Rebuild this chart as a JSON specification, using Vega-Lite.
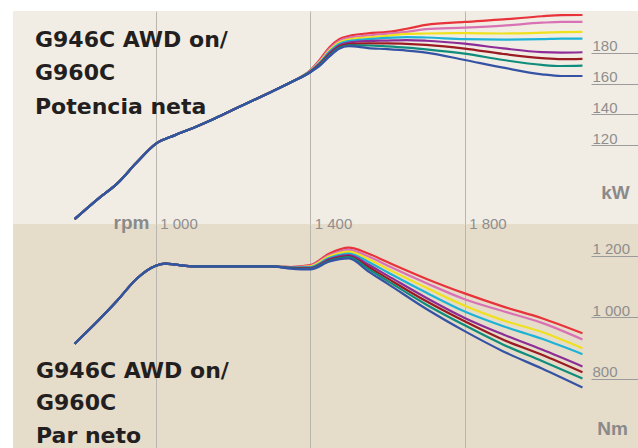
{
"$schema": "https://vega.github.io/schema/vega-lite/v6.json",
"background": "white",
"padding": {"left": 13, "top": 10, "right": 0, "bottom": 0},
"autosize": {"type": "pad"},
"spacing": 0,
"bounds": "flush",
"config": {"view": {"stroke": null}, "font": "Liberation Sans"},
"datasets": {
"potencia": [
{"serie":"rojo","rpm":790,"kW":72},{"serie":"rojo","rpm":850,"kW":85},{"serie":"rojo","rpm":900,"kW":95},{"serie":"rojo","rpm":950,"kW":108.5},{"serie":"rojo","rpm":1000,"kW":120.8},{"serie":"rojo","rpm":1050,"kW":126.5},{"serie":"rojo","rpm":1100,"kW":131.5},{"serie":"rojo","rpm":1150,"kW":137},{"serie":"rojo","rpm":1200,"kW":143},{"serie":"rojo","rpm":1250,"kW":148.8},{"serie":"rojo","rpm":1300,"kW":154.7},{"serie":"rojo","rpm":1350,"kW":160.8},
{"serie":"rojo","rpm":1400,"kW":168.6},{"serie":"rojo","rpm":1425,"kW":175.5},{"serie":"rojo","rpm":1450,"kW":183.5},{"serie":"rojo","rpm":1475,"kW":188.8},{"serie":"rojo","rpm":1500,"kW":190.9},{"serie":"rojo","rpm":1550,"kW":192.6},{"serie":"rojo","rpm":1600,"kW":193.5},{"serie":"rojo","rpm":1650,"kW":195.6},{"serie":"rojo","rpm":1700,"kW":198.1},{"serie":"rojo","rpm":1800,"kW":200},{"serie":"rojo","rpm":1900,"kW":201.6},{"serie":"rojo","rpm":2000,"kW":203.7},{"serie":"rojo","rpm":2050,"kW":204.4},{"serie":"rojo","rpm":2105,"kW":204.5},
{"serie":"rosa","rpm":790,"kW":72},{"serie":"rosa","rpm":850,"kW":85},{"serie":"rosa","rpm":900,"kW":95},{"serie":"rosa","rpm":950,"kW":108.5},{"serie":"rosa","rpm":1000,"kW":120.8},{"serie":"rosa","rpm":1050,"kW":126.5},{"serie":"rosa","rpm":1100,"kW":131.5},{"serie":"rosa","rpm":1150,"kW":137},{"serie":"rosa","rpm":1200,"kW":143},{"serie":"rosa","rpm":1250,"kW":148.8},{"serie":"rosa","rpm":1300,"kW":154.7},{"serie":"rosa","rpm":1350,"kW":160.8},
{"serie":"rosa","rpm":1400,"kW":168.4},{"serie":"rosa","rpm":1425,"kW":174.8},{"serie":"rosa","rpm":1450,"kW":182.5},{"serie":"rosa","rpm":1475,"kW":187.7},{"serie":"rosa","rpm":1500,"kW":189.7},{"serie":"rosa","rpm":1550,"kW":191.2},{"serie":"rosa","rpm":1600,"kW":192.4},{"serie":"rosa","rpm":1650,"kW":193.6},{"serie":"rosa","rpm":1700,"kW":195.3},{"serie":"rosa","rpm":1800,"kW":196.3},{"serie":"rosa","rpm":1900,"kW":197.6},{"serie":"rosa","rpm":2000,"kW":199.5},{"serie":"rosa","rpm":2050,"kW":200},{"serie":"rosa","rpm":2105,"kW":200},
{"serie":"amarillo","rpm":790,"kW":72},{"serie":"amarillo","rpm":850,"kW":85},{"serie":"amarillo","rpm":900,"kW":95},{"serie":"amarillo","rpm":950,"kW":108.5},{"serie":"amarillo","rpm":1000,"kW":120.8},{"serie":"amarillo","rpm":1050,"kW":126.5},{"serie":"amarillo","rpm":1100,"kW":131.5},{"serie":"amarillo","rpm":1150,"kW":137},{"serie":"amarillo","rpm":1200,"kW":143},{"serie":"amarillo","rpm":1250,"kW":148.8},{"serie":"amarillo","rpm":1300,"kW":154.7},{"serie":"amarillo","rpm":1350,"kW":160.8},
{"serie":"amarillo","rpm":1400,"kW":168.2},{"serie":"amarillo","rpm":1425,"kW":174.2},{"serie":"amarillo","rpm":1450,"kW":181.6},{"serie":"amarillo","rpm":1475,"kW":186.7},{"serie":"amarillo","rpm":1500,"kW":188.6},{"serie":"amarillo","rpm":1550,"kW":190},{"serie":"amarillo","rpm":1600,"kW":191},{"serie":"amarillo","rpm":1650,"kW":192.3},{"serie":"amarillo","rpm":1700,"kW":192.5},{"serie":"amarillo","rpm":1800,"kW":192.7},{"serie":"amarillo","rpm":1900,"kW":192.5},{"serie":"amarillo","rpm":2000,"kW":193},{"serie":"amarillo","rpm":2050,"kW":193.4},{"serie":"amarillo","rpm":2105,"kW":193.5},
{"serie":"cian","rpm":790,"kW":72},{"serie":"cian","rpm":850,"kW":85},{"serie":"cian","rpm":900,"kW":95},{"serie":"cian","rpm":950,"kW":108.5},{"serie":"cian","rpm":1000,"kW":120.8},{"serie":"cian","rpm":1050,"kW":126.5},{"serie":"cian","rpm":1100,"kW":131.5},{"serie":"cian","rpm":1150,"kW":137},{"serie":"cian","rpm":1200,"kW":143},{"serie":"cian","rpm":1250,"kW":148.8},{"serie":"cian","rpm":1300,"kW":154.7},{"serie":"cian","rpm":1350,"kW":160.8},
{"serie":"cian","rpm":1400,"kW":168},{"serie":"cian","rpm":1425,"kW":173.6},{"serie":"cian","rpm":1450,"kW":180.7},{"serie":"cian","rpm":1475,"kW":185.7},{"serie":"cian","rpm":1500,"kW":187.6},{"serie":"cian","rpm":1550,"kW":188.8},{"serie":"cian","rpm":1600,"kW":189.6},{"serie":"cian","rpm":1650,"kW":190.2},{"serie":"cian","rpm":1700,"kW":189.9},{"serie":"cian","rpm":1800,"kW":188.8},{"serie":"cian","rpm":1900,"kW":188.5},{"serie":"cian","rpm":2000,"kW":188.8},{"serie":"cian","rpm":2050,"kW":189.2},{"serie":"cian","rpm":2105,"kW":189.2},
{"serie":"violeta","rpm":790,"kW":72},{"serie":"violeta","rpm":850,"kW":85},{"serie":"violeta","rpm":900,"kW":95},{"serie":"violeta","rpm":950,"kW":108.5},{"serie":"violeta","rpm":1000,"kW":120.8},{"serie":"violeta","rpm":1050,"kW":126.5},{"serie":"violeta","rpm":1100,"kW":131.5},{"serie":"violeta","rpm":1150,"kW":137},{"serie":"violeta","rpm":1200,"kW":143},{"serie":"violeta","rpm":1250,"kW":148.8},{"serie":"violeta","rpm":1300,"kW":154.7},{"serie":"violeta","rpm":1350,"kW":160.8},
{"serie":"violeta","rpm":1400,"kW":167.8},{"serie":"violeta","rpm":1425,"kW":173},{"serie":"violeta","rpm":1450,"kW":179.8},{"serie":"violeta","rpm":1475,"kW":184.8},{"serie":"violeta","rpm":1500,"kW":186.6},{"serie":"violeta","rpm":1550,"kW":187.6},{"serie":"violeta","rpm":1600,"kW":187.9},{"serie":"violeta","rpm":1650,"kW":188.2},{"serie":"violeta","rpm":1700,"kW":187.8},{"serie":"violeta","rpm":1800,"kW":185.9},{"serie":"violeta","rpm":1900,"kW":182.8},{"serie":"violeta","rpm":2000,"kW":180.4},{"serie":"violeta","rpm":2050,"kW":180.1},{"serie":"violeta","rpm":2105,"kW":180.3},
{"serie":"granate","rpm":790,"kW":72},{"serie":"granate","rpm":850,"kW":85},{"serie":"granate","rpm":900,"kW":95},{"serie":"granate","rpm":950,"kW":108.5},{"serie":"granate","rpm":1000,"kW":120.8},{"serie":"granate","rpm":1050,"kW":126.5},{"serie":"granate","rpm":1100,"kW":131.5},{"serie":"granate","rpm":1150,"kW":137},{"serie":"granate","rpm":1200,"kW":143},{"serie":"granate","rpm":1250,"kW":148.8},{"serie":"granate","rpm":1300,"kW":154.7},{"serie":"granate","rpm":1350,"kW":160.8},
{"serie":"granate","rpm":1400,"kW":167.6},{"serie":"granate","rpm":1425,"kW":172.5},{"serie":"granate","rpm":1450,"kW":179},{"serie":"granate","rpm":1475,"kW":183.9},{"serie":"granate","rpm":1500,"kW":185.6},{"serie":"granate","rpm":1550,"kW":186.1},{"serie":"granate","rpm":1600,"kW":186.1},{"serie":"granate","rpm":1650,"kW":185.8},{"serie":"granate","rpm":1700,"kW":185.1},{"serie":"granate","rpm":1800,"kW":182.7},{"serie":"granate","rpm":1900,"kW":179.2},{"serie":"granate","rpm":2000,"kW":176.5},{"serie":"granate","rpm":2050,"kW":175.8},{"serie":"granate","rpm":2105,"kW":176},
{"serie":"verde","rpm":790,"kW":72},{"serie":"verde","rpm":850,"kW":85},{"serie":"verde","rpm":900,"kW":95},{"serie":"verde","rpm":950,"kW":108.5},{"serie":"verde","rpm":1000,"kW":120.8},{"serie":"verde","rpm":1050,"kW":126.5},{"serie":"verde","rpm":1100,"kW":131.5},{"serie":"verde","rpm":1150,"kW":137},{"serie":"verde","rpm":1200,"kW":143},{"serie":"verde","rpm":1250,"kW":148.8},{"serie":"verde","rpm":1300,"kW":154.7},{"serie":"verde","rpm":1350,"kW":160.8},
{"serie":"verde","rpm":1400,"kW":167.4},{"serie":"verde","rpm":1425,"kW":172},{"serie":"verde","rpm":1450,"kW":178.3},{"serie":"verde","rpm":1475,"kW":183.2},{"serie":"verde","rpm":1500,"kW":184.8},{"serie":"verde","rpm":1550,"kW":184.7},{"serie":"verde","rpm":1600,"kW":184.1},{"serie":"verde","rpm":1650,"kW":183.3},{"serie":"verde","rpm":1700,"kW":182.2},{"serie":"verde","rpm":1800,"kW":179.4},{"serie":"verde","rpm":1900,"kW":175.3},{"serie":"verde","rpm":2000,"kW":172.1},{"serie":"verde","rpm":2050,"kW":171.4},{"serie":"verde","rpm":2105,"kW":171.6},
{"serie":"azul","rpm":790,"kW":72},{"serie":"azul","rpm":850,"kW":85},{"serie":"azul","rpm":900,"kW":95},{"serie":"azul","rpm":950,"kW":108.5},{"serie":"azul","rpm":1000,"kW":120.8},{"serie":"azul","rpm":1050,"kW":126.5},{"serie":"azul","rpm":1100,"kW":131.5},{"serie":"azul","rpm":1150,"kW":137},{"serie":"azul","rpm":1200,"kW":143},{"serie":"azul","rpm":1250,"kW":148.8},{"serie":"azul","rpm":1300,"kW":154.7},{"serie":"azul","rpm":1350,"kW":160.8},
{"serie":"azul","rpm":1400,"kW":167.2},{"serie":"azul","rpm":1425,"kW":171.6},{"serie":"azul","rpm":1450,"kW":177.6},{"serie":"azul","rpm":1475,"kW":182.6},{"serie":"azul","rpm":1500,"kW":184.3},{"serie":"azul","rpm":1550,"kW":183},{"serie":"azul","rpm":1600,"kW":182.3},{"serie":"azul","rpm":1650,"kW":181.4},{"serie":"azul","rpm":1700,"kW":180.1},{"serie":"azul","rpm":1800,"kW":175.3},{"serie":"azul","rpm":1900,"kW":170.3},{"serie":"azul","rpm":2000,"kW":166},{"serie":"azul","rpm":2050,"kW":164.9},{"serie":"azul","rpm":2105,"kW":164.9}
],
"par": [
{"serie":"rojo","rpm":790,"Nm":914},{"serie":"rojo","rpm":850,"Nm":988},{"serie":"rojo","rpm":900,"Nm":1054},{"serie":"rojo","rpm":950,"Nm":1125},{"serie":"rojo","rpm":1000,"Nm":1168},{"serie":"rojo","rpm":1025,"Nm":1175},{"serie":"rojo","rpm":1050,"Nm":1172},{"serie":"rojo","rpm":1100,"Nm":1166},{"serie":"rojo","rpm":1200,"Nm":1166},{"serie":"rojo","rpm":1300,"Nm":1166},
{"serie":"rojo","rpm":1350,"Nm":1164},{"serie":"rojo","rpm":1400,"Nm":1170},{"serie":"rojo","rpm":1450,"Nm":1208},{"serie":"rojo","rpm":1500,"Nm":1227},{"serie":"rojo","rpm":1550,"Nm":1208},{"serie":"rojo","rpm":1600,"Nm":1180},{"serie":"rojo","rpm":1700,"Nm":1126},{"serie":"rojo","rpm":1800,"Nm":1078},{"serie":"rojo","rpm":1900,"Nm":1035},{"serie":"rojo","rpm":2000,"Nm":997},{"serie":"rojo","rpm":2105,"Nm":948},
{"serie":"rosa","rpm":790,"Nm":914},{"serie":"rosa","rpm":850,"Nm":988},{"serie":"rosa","rpm":900,"Nm":1054},{"serie":"rosa","rpm":950,"Nm":1125},{"serie":"rosa","rpm":1000,"Nm":1168},{"serie":"rosa","rpm":1025,"Nm":1175},{"serie":"rosa","rpm":1050,"Nm":1172},{"serie":"rosa","rpm":1100,"Nm":1166},{"serie":"rosa","rpm":1200,"Nm":1166},{"serie":"rosa","rpm":1300,"Nm":1166},
{"serie":"rosa","rpm":1350,"Nm":1164},{"serie":"rosa","rpm":1400,"Nm":1168},{"serie":"rosa","rpm":1450,"Nm":1203},{"serie":"rosa","rpm":1500,"Nm":1220},{"serie":"rosa","rpm":1550,"Nm":1199},{"serie":"rosa","rpm":1600,"Nm":1169},{"serie":"rosa","rpm":1700,"Nm":1112},{"serie":"rosa","rpm":1800,"Nm":1059},{"serie":"rosa","rpm":1900,"Nm":1020},{"serie":"rosa","rpm":2000,"Nm":982},{"serie":"rosa","rpm":2105,"Nm":928},
{"serie":"amarillo","rpm":790,"Nm":914},{"serie":"amarillo","rpm":850,"Nm":988},{"serie":"amarillo","rpm":900,"Nm":1054},{"serie":"amarillo","rpm":950,"Nm":1125},{"serie":"amarillo","rpm":1000,"Nm":1168},{"serie":"amarillo","rpm":1025,"Nm":1175},{"serie":"amarillo","rpm":1050,"Nm":1172},{"serie":"amarillo","rpm":1100,"Nm":1166},{"serie":"amarillo","rpm":1200,"Nm":1166},{"serie":"amarillo","rpm":1300,"Nm":1166},
{"serie":"amarillo","rpm":1350,"Nm":1163},{"serie":"amarillo","rpm":1400,"Nm":1166},{"serie":"amarillo","rpm":1450,"Nm":1199},{"serie":"amarillo","rpm":1500,"Nm":1214},{"serie":"amarillo","rpm":1550,"Nm":1190},{"serie":"amarillo","rpm":1600,"Nm":1158},{"serie":"amarillo","rpm":1700,"Nm":1097},{"serie":"amarillo","rpm":1800,"Nm":1038},{"serie":"amarillo","rpm":1900,"Nm":990},{"serie":"amarillo","rpm":2000,"Nm":952},{"serie":"amarillo","rpm":2105,"Nm":899},
{"serie":"cian","rpm":790,"Nm":914},{"serie":"cian","rpm":850,"Nm":988},{"serie":"cian","rpm":900,"Nm":1054},{"serie":"cian","rpm":950,"Nm":1125},{"serie":"cian","rpm":1000,"Nm":1168},{"serie":"cian","rpm":1025,"Nm":1175},{"serie":"cian","rpm":1050,"Nm":1172},{"serie":"cian","rpm":1100,"Nm":1166},{"serie":"cian","rpm":1200,"Nm":1166},{"serie":"cian","rpm":1300,"Nm":1166},
{"serie":"cian","rpm":1350,"Nm":1163},{"serie":"cian","rpm":1400,"Nm":1164},{"serie":"cian","rpm":1450,"Nm":1194},{"serie":"cian","rpm":1500,"Nm":1208},{"serie":"cian","rpm":1550,"Nm":1181},{"serie":"cian","rpm":1600,"Nm":1147},{"serie":"cian","rpm":1700,"Nm":1081},{"serie":"cian","rpm":1800,"Nm":1019},{"serie":"cian","rpm":1900,"Nm":971},{"serie":"cian","rpm":2000,"Nm":930},{"serie":"cian","rpm":2105,"Nm":880},
{"serie":"violeta","rpm":790,"Nm":914},{"serie":"violeta","rpm":850,"Nm":988},{"serie":"violeta","rpm":900,"Nm":1054},{"serie":"violeta","rpm":950,"Nm":1125},{"serie":"violeta","rpm":1000,"Nm":1168},{"serie":"violeta","rpm":1025,"Nm":1175},{"serie":"violeta","rpm":1050,"Nm":1172},{"serie":"violeta","rpm":1100,"Nm":1166},{"serie":"violeta","rpm":1200,"Nm":1166},{"serie":"violeta","rpm":1300,"Nm":1166},
{"serie":"violeta","rpm":1350,"Nm":1162},{"serie":"violeta","rpm":1400,"Nm":1161},{"serie":"violeta","rpm":1450,"Nm":1190},{"serie":"violeta","rpm":1500,"Nm":1203},{"serie":"violeta","rpm":1550,"Nm":1172},{"serie":"violeta","rpm":1600,"Nm":1136},{"serie":"violeta","rpm":1700,"Nm":1064},{"serie":"violeta","rpm":1800,"Nm":998},{"serie":"violeta","rpm":1900,"Nm":944},{"serie":"violeta","rpm":2000,"Nm":895},{"serie":"violeta","rpm":2105,"Nm":840},
{"serie":"granate","rpm":790,"Nm":914},{"serie":"granate","rpm":850,"Nm":988},{"serie":"granate","rpm":900,"Nm":1054},{"serie":"granate","rpm":950,"Nm":1125},{"serie":"granate","rpm":1000,"Nm":1168},{"serie":"granate","rpm":1025,"Nm":1175},{"serie":"granate","rpm":1050,"Nm":1172},{"serie":"granate","rpm":1100,"Nm":1166},{"serie":"granate","rpm":1200,"Nm":1166},{"serie":"granate","rpm":1300,"Nm":1166},
{"serie":"granate","rpm":1350,"Nm":1161},{"serie":"granate","rpm":1400,"Nm":1159},{"serie":"granate","rpm":1450,"Nm":1187},{"serie":"granate","rpm":1500,"Nm":1199},{"serie":"granate","rpm":1550,"Nm":1165},{"serie":"granate","rpm":1600,"Nm":1127},{"serie":"granate","rpm":1700,"Nm":1053},{"serie":"granate","rpm":1800,"Nm":987},{"serie":"granate","rpm":1900,"Nm":927},{"serie":"granate","rpm":2000,"Nm":878},{"serie":"granate","rpm":2105,"Nm":821},
{"serie":"verde","rpm":790,"Nm":914},{"serie":"verde","rpm":850,"Nm":988},{"serie":"verde","rpm":900,"Nm":1054},{"serie":"verde","rpm":950,"Nm":1125},{"serie":"verde","rpm":1000,"Nm":1168},{"serie":"verde","rpm":1025,"Nm":1175},{"serie":"verde","rpm":1050,"Nm":1172},{"serie":"verde","rpm":1100,"Nm":1166},{"serie":"verde","rpm":1200,"Nm":1166},{"serie":"verde","rpm":1300,"Nm":1166},
{"serie":"verde","rpm":1350,"Nm":1160},{"serie":"verde","rpm":1400,"Nm":1158},{"serie":"verde","rpm":1450,"Nm":1184},{"serie":"verde","rpm":1500,"Nm":1196},{"serie":"verde","rpm":1550,"Nm":1158},{"serie":"verde","rpm":1600,"Nm":1119},{"serie":"verde","rpm":1700,"Nm":1042},{"serie":"verde","rpm":1800,"Nm":974},{"serie":"verde","rpm":1900,"Nm":911},{"serie":"verde","rpm":2000,"Nm":858},{"serie":"verde","rpm":2105,"Nm":801},
{"serie":"azul","rpm":790,"Nm":914},{"serie":"azul","rpm":850,"Nm":988},{"serie":"azul","rpm":900,"Nm":1054},{"serie":"azul","rpm":950,"Nm":1125},{"serie":"azul","rpm":1000,"Nm":1168},{"serie":"azul","rpm":1025,"Nm":1175},{"serie":"azul","rpm":1050,"Nm":1172},{"serie":"azul","rpm":1100,"Nm":1166},{"serie":"azul","rpm":1200,"Nm":1166},{"serie":"azul","rpm":1300,"Nm":1166},
{"serie":"azul","rpm":1350,"Nm":1159},{"serie":"azul","rpm":1400,"Nm":1156},{"serie":"azul","rpm":1450,"Nm":1182},{"serie":"azul","rpm":1500,"Nm":1192},{"serie":"azul","rpm":1550,"Nm":1150},{"serie":"azul","rpm":1600,"Nm":1110},{"serie":"azul","rpm":1700,"Nm":1028},{"serie":"azul","rpm":1800,"Nm":955},{"serie":"azul","rpm":1900,"Nm":889},{"serie":"azul","rpm":2000,"Nm":833},{"serie":"azul","rpm":2105,"Nm":771}
]
},
"vconcat": [
{
"width": 625, "height": 213,
"view": {"fill": "#f2ede4", "stroke": null},
"title": {"text": ["G946C AWD on/", "G960C", "Potencia neta"], "orient": "bottom", "anchor": "start", "frame": "group", "offset": -177.5, "baseline": "alphabetic", "dx": 22, "font": "DejaVu Sans", "fontSize": 22, "fontWeight": "bold", "color": "#231f20", "lineHeight": 33.5},
"data": {"name": "potencia"},
"mark": {"type": "line", "interpolate": "monotone", "strokeWidth": 2.2},
"encoding": {
"x": {"field": "rpm", "type": "quantitative", "scale": {"domain": [630.5, 2248.8], "nice": false, "zero": false},
 "axis": {"values": [1000, 1400, 1800], "grid": true, "gridColor": "#b9b6b0", "gridWidth": 1, "labels": false, "ticks": false, "domain": false, "title": null}},
"y": {"field": "kW", "type": "quantitative", "scale": {"domain": [68.8, 207.1], "nice": false, "zero": false},
 "axis": {"orient": "right", "values": [120, 140, 160, 180], "offset": -47, "tickSize": 47, "tickColor": "#9b9b9b", "tickWidth": 1.2, "domain": false, "grid": false,
  "labelAlign": "left", "labelPadding": -46, "labelBaseline": "alphabetic", "labelOffset": -2, "labelFont": "Liberation Sans", "labelFontSize": 15, "labelColor": "#8e8e8e", "labelFlush": false,
  "title": "kW", "titleAngle": 0, "titleX": 24, "titleY": 187, "titleAlign": "center", "titleBaseline": "alphabetic", "titleFont": "Liberation Sans", "titleFontSize": 19, "titleFontWeight": "bold", "titleColor": "#8a8a8a"}},
"color": {"field": "serie", "type": "nominal", "scale": {"domain": ["rojo", "rosa", "amarillo", "cian", "violeta", "granate", "verde", "azul"], "range": ["#e8333b", "#d872b4", "#efe11c", "#1db3d6", "#8d2c97", "#9a1b22", "#0e8c7c", "#3553a4"]}, "legend": null}
}
},
{
"width": 625, "height": 225,
"view": {"fill": "#e6dcca", "stroke": null},
"title": {"text": ["G946C AWD on/", "G960C", "Par neto"], "orient": "bottom", "anchor": "start", "frame": "group", "offset": -71.3, "baseline": "alphabetic", "dx": 23, "font": "DejaVu Sans", "fontSize": 22, "fontWeight": "bold", "color": "#231f20", "lineHeight": 32.5},
"data": {"name": "par"},
"mark": {"type": "line", "interpolate": "monotone", "strokeWidth": 2.2},
"encoding": {
"x": {"field": "rpm", "type": "quantitative", "scale": {"domain": [630.5, 2248.8], "nice": false, "zero": false},
 "axis": {"orient": "top", "values": [1000, 1400, 1800], "grid": true, "gridColor": "#b9b6b0", "gridWidth": 1, "ticks": false, "domain": false,
  "labelAlign": "left", "labelOffset": 4, "labelPadding": -4.7, "labelBaseline": "alphabetic", "labelFlush": false, "labelFont": "Liberation Sans", "labelFontSize": 15, "labelColor": "#8e8e8e",
  "labelExpr": "replace(format(datum.value, ','), ',', ' ')",
  "title": "rpm", "titleX": 136, "titleY": 4.7, "titleAlign": "right", "titleBaseline": "alphabetic", "titleFont": "Liberation Sans", "titleFontSize": 19, "titleFontWeight": "bold", "titleColor": "#8a8a8a"}},
"y": {"field": "Nm", "type": "quantitative", "scale": {"domain": [570.9, 1304.2], "nice": false, "zero": false},
 "axis": {"orient": "right", "values": [800, 1000, 1200], "offset": -47, "tickSize": 47, "tickColor": "#9b9b9b", "tickWidth": 1.2, "domain": false, "grid": false,
  "labelAlign": "left", "labelPadding": -46, "labelBaseline": "alphabetic", "labelOffset": -2, "labelFont": "Liberation Sans", "labelFontSize": 15, "labelColor": "#8e8e8e", "labelFlush": false,
  "labelExpr": "replace(format(datum.value, ','), ',', ' ')",
  "title": "Nm", "titleAngle": 0, "titleX": 21, "titleY": 210, "titleAlign": "center", "titleBaseline": "alphabetic", "titleFont": "Liberation Sans", "titleFontSize": 19, "titleFontWeight": "bold", "titleColor": "#8a8a8a"}},
"color": {"field": "serie", "type": "nominal", "scale": {"domain": ["rojo", "rosa", "amarillo", "cian", "violeta", "granate", "verde", "azul"], "range": ["#e8333b", "#d872b4", "#efe11c", "#1db3d6", "#8d2c97", "#9a1b22", "#0e8c7c", "#3553a4"]}, "legend": null}
}
}
]
}
